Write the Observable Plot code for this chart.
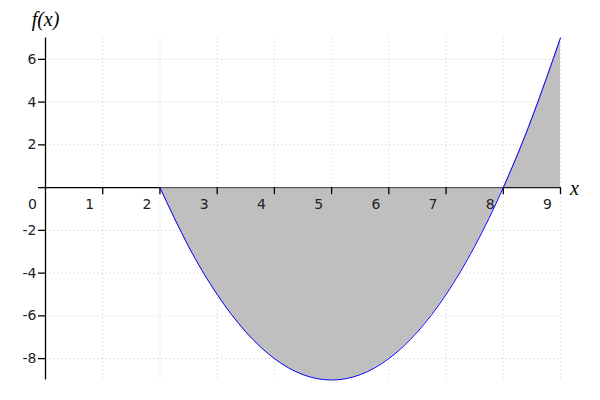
<!DOCTYPE html>
<html>
<head>
<meta charset="utf-8">
<script src="https://cdn.jsdelivr.net/npm/d3@7"></script>
<script src="https://cdn.jsdelivr.net/npm/@observablehq/plot@0.6"></script>
<style>
  html, body { margin: 0; padding: 0; background: #fff; }
</style>
</head>
<body>
<div id="chart"></div>
<script>
const xValues = [2, 2.5, 3, 3.5, 4, 4.5, 5, 5.5, 6, 6.5, 7, 7.5, 8, 8.5, 9];
const fValues = [0, -2.75, -5, -6.75, -8, -8.75, -9, -8.75, -8, -6.75, -5, -2.75, 0, 3.25, 7];

// Ticks and grid
const xTickValues = [1, 2, 3, 4, 5, 6, 7, 8, 9];
const xTickLabels = [0, 1, 2, 3, 4, 5, 6, 7, 8, 9];
const yTickValues = [-8, -6, -4, -2, 0, 2, 4, 6];
const xGridValues = [1, 2, 3, 4, 5, 6, 7, 8, 9];
const yGridValues = [-8, -6, -4, -2, 2, 4, 6];

const xDomain = [0, 9];
const yDomain = [-9, 7];

const points = xValues.map((x, i) => ({x, y: fValues[i]}));

const gridStyle = {stroke: "#c8c8c8", strokeWidth: 1, strokeDasharray: "1,3"};

const chart = Plot.plot({
  width: 600,
  height: 400,
  marginLeft: 45,
  marginRight: 40,
  marginTop: 37.5,
  marginBottom: 20.5,
  style: {fontFamily: "'DejaVu Sans', sans-serif", fontSize: "14px", color: "#000", background: "#fff"},
  x: {domain: xDomain, axis: null},
  y: {domain: yDomain, axis: null},
  marks: [
    Plot.ruleX(xGridValues, gridStyle),
    Plot.ruleY(yGridValues, gridStyle),
    Plot.areaY(points, {x: "x", y1: 0, y2: "y", fill: "#bfbfbf", curve: "natural"}),
    Plot.ruleY([0], {stroke: "#000", strokeWidth: 1.3}),
    Plot.areaY(points, {x: "x", y1: 0, y2: "y", fill: "#bfbfbf", fillOpacity: 0.6, curve: "natural"}),
    Plot.ruleX(xTickValues, {x: d => d, y1: 0, y2: 0, insetBottom: -7, stroke: "#000", strokeWidth: 1.3}),
    Plot.ruleX([0], {stroke: "#000", strokeWidth: 1.3}),
    Plot.axisY({ticks: yTickValues, label: null, tickSize: 7, tickPadding: 2, tickFormat: d => d === 0 ? "" : String(d), strokeWidth: 1.3, fontSize: 14, fill: "#222"}),
    Plot.text(xTickLabels, {x: d => d, y: 0, dx: -13, dy: 17, text: d => String(d), fontSize: 14, fill: "#222"}),
    Plot.line(points, {x: "x", y: "y", stroke: "#0000ff", strokeWidth: 1, curve: "natural"}),
    Plot.text(["f(x)"], {x: 0, y: 7, dy: -18, text: d => d, fontFamily: "'Liberation Serif', serif", fontStyle: "italic", fontSize: 20, fill: "#000"}),
    Plot.text(["x"], {x: 9, y: 0, dx: 14, dy: 1, text: d => d, fontFamily: "'Liberation Serif', serif", fontStyle: "italic", fontSize: 20, fill: "#000"})
  ]
});
document.getElementById("chart").appendChild(chart);
</script>
</body>
</html>
